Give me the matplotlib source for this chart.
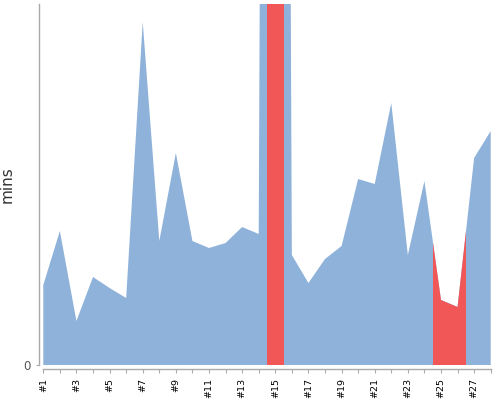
import matplotlib
matplotlib.use("Agg")
import matplotlib.pyplot as plt
from matplotlib.patches import Rectangle
import numpy as np

categories = ["#1", "#2", "#3", "#4", "#5", "#6", "#7", "#8", "#9", "#10",
              "#11", "#12", "#13", "#14", "#15", "#16", "#17", "#18", "#19", "#20",
              "#21", "#22", "#23", "#24", "#25", "#26", "#27", "#28"]
mins = [8.0, 13.4, 4.4, 8.8, 7.7, 6.7, 34.3, 12.4, 21.2, 12.4,
        11.7, 12.2, 13.8, 13.1, 400.0, 11.0, 8.2, 10.6, 11.9, 18.6,
        18.1, 26.2, 11.0, 18.4, 6.5, 5.8, 20.7, 23.4]
highlighted = ["#15", "#25", "#26"]
y_top = 36.1

BLUE = "#8fb2db"
RED = "#f25757"
GRAY = "#aaaaaa"

fig = plt.figure(figsize=(5, 4), dpi=100)
ax = fig.add_axes([43.3 / 500, 1 - 365 / 400, (490.7 - 43.3) / 500, (365 - 4) / 400])

x = np.arange(1, len(categories) + 1)
ax.fill_between(x, 0, mins, color=BLUE, linewidth=0, zorder=1)

for cat in highlighted:
    xi = categories.index(cat) + 1
    poly = ax.fill_between(x, 0, mins, color=RED, linewidth=0, zorder=2)
    rect = Rectangle((xi - 0.5, 0), 1.0, y_top, transform=ax.transData)
    poly.set_clip_path(rect)

ax.set_xlim(1, len(categories))
ax.set_ylim(0, y_top)

ax.set_xticks(x)
ax.set_xticklabels([c if i % 2 == 0 else "" for i, c in enumerate(categories)])
ax.set_yticks([0])
ax.set_yticklabels(["0"])

for s in ["top", "right"]:
    ax.spines[s].set_visible(False)
for s in ["left", "bottom"]:
    ax.spines[s].set_color(GRAY)
    ax.spines[s].set_linewidth(1.0)
    ax.spines[s].set_position(("outward", 3))

ax.tick_params(axis="x", length=3, width=0.8, color=GRAY, pad=3,
               labelrotation=90, labelsize=6.8, labelcolor="#000000")
ax.tick_params(axis="y", length=2, width=0.8, color=GRAY, pad=4,
               labelsize=8.5, labelcolor="#555555")

ax.set_ylabel("mins", fontsize=11, color="#333333")
ax.yaxis.set_label_coords(-0.065, 0.5)

fig.savefig("out.png", dpi=100)
